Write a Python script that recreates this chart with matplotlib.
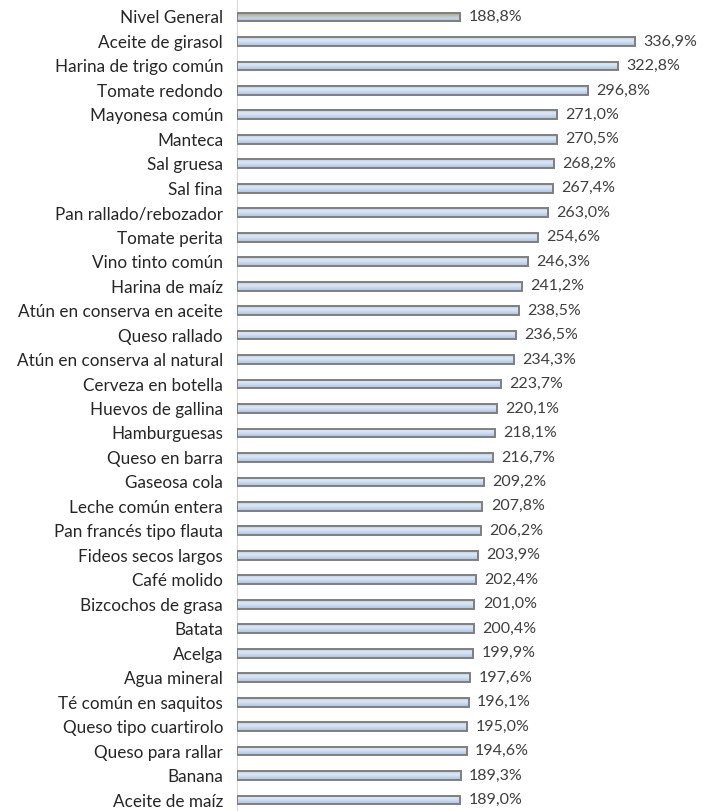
import matplotlib.pyplot as plt
import numpy as np
from matplotlib.colors import LinearSegmentedColormap

labels = ['Nivel General', 'Aceite de girasol', 'Harina de trigo común', 'Tomate redondo',
          'Mayonesa común', 'Manteca', 'Sal gruesa', 'Sal fina', 'Pan rallado/rebozador',
          'Tomate perita', 'Vino tinto común', 'Harina de maíz', 'Atún en conserva en aceite',
          'Queso rallado', 'Atún en conserva al natural', 'Cerveza en botella',
          'Huevos de gallina', 'Hamburguesas', 'Queso en barra', 'Gaseosa cola',
          'Leche común entera', 'Pan francés tipo flauta', 'Fideos secos largos',
          'Café molido', 'Bizcochos de grasa', 'Batata', 'Acelga', 'Agua mineral',
          'Té común en saquitos', 'Queso tipo cuartirolo', 'Queso para rallar', 'Banana',
          'Aceite de maíz']
values = [188.8, 336.9, 322.8, 296.8, 271.0, 270.5, 268.2, 267.4, 263.0, 254.6, 246.3,
          241.2, 238.5, 236.5, 234.3, 223.7, 220.1, 218.1, 216.7, 209.2, 207.8, 206.2,
          203.9, 202.4, 201.0, 200.4, 199.9, 197.6, 196.1, 195.0, 194.6, 189.3, 189.0]

plt.rcParams['font.family'] = ['Lato', 'DejaVu Sans']

# gradients (top -> bottom)
cm_blue = LinearSegmentedColormap.from_list('b', ['#b7c8e2', '#dfe8f5', '#c6d6ee', '#a9bedd'])
cm_gen = LinearSegmentedColormap.from_list('g', ['#9a9a82', '#b7b9a6', '#c6d3e4', '#a9bedd'])

fig = plt.figure(figsize=(7.08, 8.11), dpi=100)
ax = fig.add_axes([237 / 708, 0, 1 - 237 / 708, 1])

y = np.arange(len(values))
bars = ax.barh(y, values, height=0.36, color='none', edgecolor='#7f7f7f', linewidth=1.4, zorder=3)

grad = np.linspace(0, 1, 64).reshape(-1, 1)
for i, b in enumerate(bars):
    x0, y0 = b.get_x(), b.get_y()
    w, h = b.get_width(), b.get_height()
    im = ax.imshow(grad, cmap=cm_gen if i == 0 else cm_blue, aspect='auto',
                   extent=[x0, x0 + w, y0 + h, y0], origin='upper', zorder=2)
    im.set_clip_path(b)

for yi, v in zip(y, values):
    ax.text(v + 7, yi, f'{v:.1f}%'.replace('.', ','), va='center', ha='left',
            fontsize=11.5, color='#404040')

ax.set_yticks(y)
ax.set_yticklabels(labels, fontsize=12.3, color='#262626')
ax.tick_params(axis='y', length=0, pad=10)
ax.set_xlim(0, 398.7)
ax.set_ylim(32 + 11 / 24.47, -17 / 24.47)
ax.set_xticks([])
for s in ['top', 'right', 'bottom']:
    ax.spines[s].set_visible(False)
ax.spines['left'].set_color('#d9d9d9')

fig.savefig('out.png', dpi=100)
